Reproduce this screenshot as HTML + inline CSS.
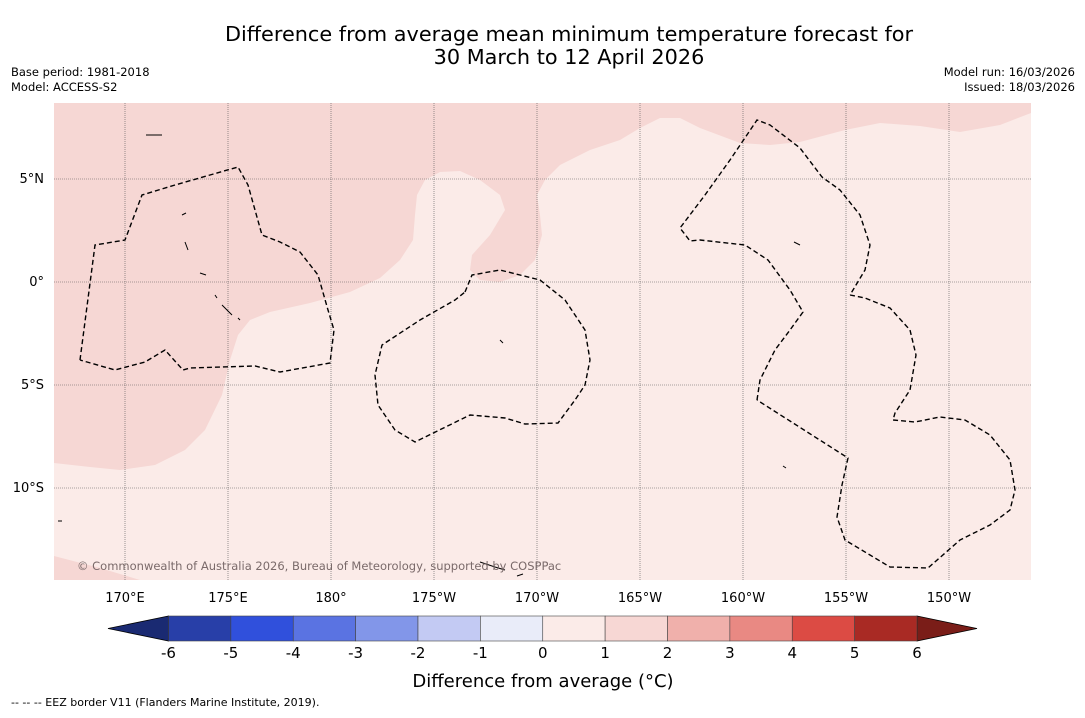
<!DOCTYPE html>
<html><head><meta charset="utf-8"><style>
body{margin:0;background:#fff;width:1085px;height:713px;overflow:hidden;font-family:"Liberation Sans","DejaVu Sans",sans-serif}
svg text{font-family:"DejaVu Sans","Liberation Sans",sans-serif}
</style></head><body>
<svg width="1085" height="713">
<text x="569" y="41" font-size="20.8" text-anchor="middle">Difference from average mean minimum temperature forecast for</text>
<text x="569" y="64" font-size="20.8" text-anchor="middle">30 March to 12 April 2026</text>
<text x="11" y="76" font-size="11.5">Base period: 1981-2018</text>
<text x="11" y="91" font-size="11.5">Model: ACCESS-S2</text>
<text x="1075" y="76" font-size="11.5" text-anchor="end">Model run: 16/03/2026</text>
<text x="1075" y="91" font-size="11.5" text-anchor="end">Issued: 18/03/2026</text>
<g>
<rect x="54" y="103" width="977" height="477" fill="#fbebe8"/>
<path fill="#f6d7d4" d="M54,103 L1031,103 L1031,113 L1000,125 L960,132 L920,126 L880,123 L845,130 L800,142 L770,145 L740,143 L700,128 L680,118 L660,118 L640,128 L620,140 L590,150 L560,165 L545,180 L537,195 L540,215 L542,235 L535,260 L520,275 L500,282 L480,280 L470,270 L472,255 L490,235 L505,210 L500,195 L480,180 L460,171 L440,172 L425,180 L417,195 L415,215 L413,240 L400,260 L380,278 L350,292 L310,303 L270,312 L250,320 L238,335 L230,360 L222,395 L205,430 L185,450 L155,465 L120,470 L90,467 L54,463 Z M54,556 L100,568 L140,580 L54,580 Z"/>
<g stroke="#555" stroke-width="0.6" stroke-dasharray="1,1" fill="none">
<path d="M125,103V580M228,103V580M331,103V580M434,103V580M537,103V580M640,103V580M743,103V580M846,103V580M949,103V580M54,179H1031M54,282H1031M54,385H1031M54,488H1031"/>
</g>
<g stroke="#000" stroke-width="1.4" stroke-dasharray="5,3" fill="none">
<path d="M80,360 L95,245 L125,240 L142,195 L175,185 L238,167 L248,185 L262,235 L280,242 L300,252 L318,275 L328,310 L334,330 L330,363 L280,372 L255,366 L190,368 L183,370 L165,350 L145,362 L115,370 L80,360"/>
<path d="M465,292 L472,275 L500,270 L540,280 L565,300 L585,330 L590,360 L585,385 L575,400 L558,423 L525,424 L505,418 L470,415 L415,442 L395,430 L378,405 L375,375 L382,345 L420,320 L455,300 Z"/>
<path d="M757,400 L760,380 L775,350 L790,330 L803,312 L790,290 L768,260 L745,245 L700,240 L690,241 L680,228 L705,195 L730,160 L757,120 L770,125 L800,148 L822,177 L840,190 L860,215 L870,245 L865,270 L850,295"/>
<path d="M850,295 L865,298 L890,308 L910,330 L916,355 L910,390 L895,413 L893,420 L915,422 L940,417 L965,420 L990,435 L1010,460 L1015,490 L1010,510 L990,525 L960,540 L928,568 L890,567 L870,555 L845,540 L837,517 L842,485 L848,458 L757,400"/>
</g>
<g fill="none" stroke="#000" stroke-width="1">
<path d="M146,135h16M182,215l4,-2M185,242l3,8M200,273l6,2M215,295l2,3M222,305l10,10M238,318l2,2M480,562l15,5l10,3M500,340l3,3M783,466l3,2M794,242l6,3M58,521h4M517,576l6,-2"/>
</g>
<text x="77" y="570" font-size="11.5" fill="#7a6a6a">© Commonwealth of Australia 2026, Bureau of Meteorology, supported by COSPPac</text>
</g>
<g font-size="13">
<text x="44" y="183" text-anchor="end">5°N</text><text x="44" y="286" text-anchor="end">0°</text>
<text x="44" y="389" text-anchor="end">5°S</text><text x="44" y="492" text-anchor="end">10°S</text>
</g>
<g font-size="13" text-anchor="middle">
<text x="125" y="602">170°E</text><text x="228" y="602">175°E</text><text x="331" y="602">180°</text>
<text x="434" y="602">175°W</text><text x="537" y="602">170°W</text><text x="640" y="602">165°W</text>
<text x="743" y="602">160°W</text><text x="846" y="602">155°W</text><text x="949" y="602">150°W</text>
</g>
<g id="cbar"></g>
<text x="543" y="687" font-size="18" text-anchor="middle">Difference from average (°C)</text>
<text x="11" y="706" font-size="11">--  --  -- EEZ border V11 (Flanders Marine Institute, 2019).</text>
</svg>
<script>
const levels=[-6,-5,-4,-3,-2,-1,0,1,2,3,4,5,6];
const colors=["#283fa8","#3050dc","#5a73e2","#8296e9","#c3caf3","#e9ecf9","#fbebe8","#f7d7d4","#f0b0ab","#e98983","#dc4b44","#a92a24"];
const tipColors=["#1a2a72","#7a1d18"];
const NS="http://www.w3.org/2000/svg";
const g=document.getElementById('cbar');
const x0=168.5,x1=917,y0=616,y1=641;
const sx=v=>x0+(v-levels[0])/(levels[levels.length-1]-levels[0])*(x1-x0);
function mk(t,a){const e=document.createElementNS(NS,t);for(const k in a)e.setAttribute(k,a[k]);g.appendChild(e);return e;}
let p=mk('polygon',{points:`${x0},${y0} 108,${(y0+y1)/2} ${x0},${y1}`,fill:tipColors[0],stroke:'#000','stroke-width':0.8});


p=mk('polygon',{points:`${x1},${y0} 977,${(y0+y1)/2} ${x1},${y1}`,fill:tipColors[1],stroke:'#000','stroke-width':0.8});


colors.forEach((c,i)=>{
 const r=mk('rect',{x:sx(levels[i]),y:y0,width:sx(levels[i+1])-sx(levels[i]),height:y1-y0,fill:c,stroke:'#444','stroke-width':0.6});
 
 
});
levels.forEach(v=>{
 const t=mk('text',{x:sx(v),y:658,'font-size':15,'text-anchor':'middle'});
 t.textContent=v;
 
 
});
</script>
</body></html>
